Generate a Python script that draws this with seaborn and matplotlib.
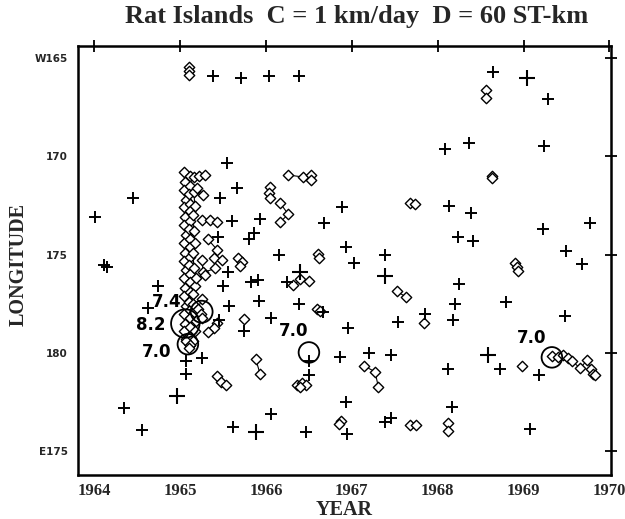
import matplotlib
matplotlib.use("Agg")
import matplotlib.pyplot as plt
import pandas as pd
import seaborn as sns

# ---- single events (crosses) ----
cross_year = [
    1965.38, 1965.71, 1966.04, 1966.38, 1968.64, 1969.28,
    1965.55, 1964.45, 1964.01, 1965.66, 1965.46, 1965.60, 1965.93, 1965.86,
    1965.80, 1966.68, 1966.89, 1965.44, 1968.09, 1968.37, 1969.24, 1968.13,
    1968.39, 1969.23, 1969.77, 1968.24, 1968.41,
    1964.11, 1964.15, 1964.74, 1964.63, 1965.57, 1965.50, 1965.56, 1965.82,
    1965.91, 1965.92, 1966.06, 1965.74, 1965.45, 1966.15, 1966.25, 1966.39,
    1966.66, 1966.93, 1966.95, 1967.39, 1967.02, 1969.50, 1969.68, 1968.25,
    1968.20, 1968.80, 1967.85, 1968.18, 1967.54, 1969.48,
    1965.07, 1965.25, 1965.07, 1964.34, 1964.56, 1965.62, 1966.46, 1966.06,
    1966.93, 1966.86, 1966.50, 1966.50, 1967.20, 1967.46, 1968.72, 1969.18,
    1968.12, 1968.17, 1967.39, 1967.46, 1969.07, 1966.94,
]
cross_lon = [
    165.9, 166.0, 165.9, 165.9, 165.7, 167.1,
    170.35, 172.1, 173.1, 171.6, 172.1, 173.3, 173.2, 173.9,
    174.2, 173.4, 172.6, 174.1, 169.65, 169.3, 169.5, 172.5,
    172.9, 173.7, 173.4, 174.1, 174.3,
    175.5, 175.65, 176.6, 177.7, 177.6, 176.6, 175.9, 176.4,
    176.3, 177.35, 178.2, 178.9, 178.3, 175.0, 176.4, 177.5,
    177.9, 174.6, 178.75, 175.0, 175.4, 174.8, 175.45, 176.5,
    177.5, 177.4, 178.0, 178.3, 178.4, 178.1,
    180.4, 180.25, 181.05, 182.8, 183.9, 183.75, 184.0, 183.1,
    182.5, 180.2, 180.4, 181.1, 180.0, 180.1, 180.8, 181.1,
    180.8, 182.75, 183.5, 183.3, 183.85, 184.1,
]
# larger crosses
big_cross_year = [1969.04, 1966.40, 1967.39, 1964.96, 1965.88, 1968.59]
big_cross_lon = [166.0, 175.9, 176.1, 182.2, 184.0, 180.1]

# ---- clustered events (diamonds joined within a group) ----
diamond_year = [
    1965.10, 1965.10, 1965.10,
    1966.05, 1966.04, 1966.05,
    1966.26, 1966.43, 1966.52, 1966.52,
    1966.16, 1966.26, 1966.16,
    1968.56, 1968.56,
    1968.63, 1968.63,
    1967.68, 1967.74,
    1968.90, 1968.92, 1968.93,
    1967.52, 1967.63,
    1967.84,
    1968.98,
    1969.33, 1969.40, 1969.46, 1969.52, 1969.57, 1969.66, 1969.74, 1969.78, 1969.81, 1969.83,
    1967.14, 1967.27, 1967.31,
    1967.68, 1967.75,
    1968.12, 1968.12,
    1966.87, 1966.85,
    1966.36, 1966.42, 1966.46, 1966.40,
    1966.60, 1966.62,
    1966.59, 1966.63,
    1966.32, 1966.40, 1966.50,
    1965.88, 1965.93,
    1965.43, 1965.48, 1965.53,
    1965.74,
    1965.67, 1965.72, 1965.70,
    # main sequence, western column
    1965.05, 1965.06, 1965.05, 1965.07, 1965.05, 1965.06, 1965.05, 1965.07,
    1965.05, 1965.06, 1965.05, 1965.07, 1965.05, 1965.06, 1965.05, 1965.07,
    1965.05, 1965.06, 1965.05, 1965.07,
    # main sequence, central column
    1965.11, 1965.12, 1965.10, 1965.11, 1965.12, 1965.11, 1965.10, 1965.12,
    1965.11, 1965.12, 1965.10, 1965.11, 1965.12, 1965.11, 1965.10, 1965.12,
    1965.11, 1965.12, 1965.11, 1965.12,
    # main sequence, eastern column
    1965.16, 1965.17, 1965.15, 1965.16, 1965.17, 1965.15, 1965.16, 1965.17,
    1965.15, 1965.16, 1965.17, 1965.15,
    1965.16, 1965.22, 1965.29,
    1965.20, 1965.27,
    1965.26, 1965.35, 1965.43,
    1965.32, 1965.43, 1965.39, 1965.49,
    1965.25, 1965.27, 1965.41,
    1965.18, 1965.29,
    1965.15, 1965.25, 1965.21, 1965.24, 1965.18, 1965.25,
    1965.43, 1965.39, 1965.33,
    1965.07, 1965.12, 1965.10,
]
diamond_lon = [
    165.45, 165.65, 165.85,
    171.55, 171.85, 172.1,
    170.95, 171.05, 170.95, 171.2,
    172.35, 172.95, 173.35,
    166.65, 167.05,
    171.0, 171.1,
    172.35, 172.4,
    175.4, 175.65, 175.85,
    176.85, 177.15,
    178.45,
    180.65,
    180.15, 180.2, 180.12, 180.27, 180.42, 180.78, 180.35, 180.8, 181.05, 181.12,
    180.65, 180.95, 181.75,
    183.65, 183.65,
    183.55, 183.95,
    183.45, 183.6,
    181.6, 181.5, 181.65, 181.75,
    174.95, 175.15,
    177.75, 177.85,
    176.55, 176.25, 176.35,
    180.3, 181.05,
    181.15, 181.45, 181.65,
    178.25,
    175.15, 175.35, 175.55,
    170.8, 171.3, 171.7, 172.2, 172.6, 173.1, 173.5, 174.0,
    174.4, 174.9, 175.3, 175.8, 176.2, 176.7, 177.1, 177.6,
    178.0, 178.5, 178.9, 179.3,
    171.0, 171.5, 171.9, 172.4, 172.8, 173.3, 173.7, 174.2,
    174.6, 175.1, 175.5, 176.0, 176.4, 176.9, 177.4, 177.8,
    178.2, 178.7, 179.2, 179.6,
    171.8, 172.5, 173.0, 173.8, 174.4, 174.9, 175.7, 176.6,
    177.0, 177.9, 178.9, 179.4,
    171.05, 171.0, 170.95,
    171.6, 171.95,
    173.25, 173.25, 173.35,
    174.2, 174.75, 175.15, 175.25,
    175.25, 175.9, 175.7,
    176.2, 176.05,
    177.5, 177.25, 177.75, 178.0, 178.35, 178.2,
    178.45, 178.75, 178.95,
    179.4, 179.6, 179.75,
]
diamond_group = (
    [0] * 3 + [1] * 3 + [2] * 4 + [3] * 3 + [4] * 2 + [5] * 2 + [6] * 2
    + [7] * 3 + [8] * 2 + [9] + [10] + [11] * 10 + [12] * 3 + [13] * 2
    + [14] * 2 + [15] * 2 + [16] * 4 + [17] * 2 + [18] * 2 + [19] * 3
    + [20] * 2 + [21] * 3 + [22] + [23] * 3 + [24] * 20 + [25] * 20
    + [35] * 12
    + [26] * 3 + [27] * 2 + [28] * 3 + [29] * 4 + [30] * 3 + [31] * 2
    + [32] * 6 + [33] * 3 + [34] * 3
)

# ---- large earthquakes ----
event_year = [1965.06, 1965.25, 1965.09, 1966.50, 1969.33]
event_lon = [178.5, 177.9, 179.55, 179.97, 180.22]
event_mag = [8.2, 7.4, 7.0, 7.0, 7.0]
event_label = ["8.2", "7.4", "7.0", "7.0", "7.0"]

year_ticks = [1964, 1965, 1966, 1967, 1968, 1969, 1970]
lon_ticks = [165, 170, 175, 180, 185]
lon_labels = ["W165", "170", "175", "180", "E175"]

sns.set_theme(style="white")
plt.rcParams["font.family"] = ["DejaVu Sans"]

fig = plt.figure(figsize=(6.25, 5.19), dpi=100)
ax = fig.add_axes([0.1248, 0.0848, 0.853, 0.8266])

diam = pd.DataFrame({"year": diamond_year, "lon": diamond_lon, "group": diamond_group})
sns.lineplot(data=diam, x="year", y="lon", units="group", estimator=None,
             sort=False, color="black", lw=0.8, ax=ax, legend=False)
sns.scatterplot(data=diam, x="year", y="lon", marker="D", s=28,
                facecolor="white", edgecolor="black", linewidth=1.0,
                ax=ax, zorder=3, legend=False)

sns.scatterplot(x=cross_year, y=cross_lon, marker="+", s=70, color="black",
                linewidth=1.4, ax=ax, zorder=4)
sns.scatterplot(x=big_cross_year, y=big_cross_lon, marker="+", s=140,
                color="black", linewidth=1.5, ax=ax, zorder=4)

ring_size = {8.2: 420, 7.4: 250, 7.0: 220}
sns.scatterplot(x=event_year, y=event_lon, marker="o",
                s=[ring_size[m] for m in event_mag],
                facecolor="none", edgecolor="black", linewidth=1.3,
                ax=ax, zorder=5)

label_offset = [(-35, -1), (-35, 10), (-31, -8), (-15, 21), (-20, 19)]
for yr, ln, txt, off in zip(event_year, event_lon, event_label, label_offset):
    ax.annotate(txt, (yr, ln), xytext=off, textcoords="offset pixels",
                ha="center", va="center", fontsize=12, fontweight="bold",
                color="black", zorder=6)

ax.set_xlim(1963.81, 1970.02)
ax.set_ylim(186.2, 164.39)
ax.set_xticks(year_ticks)
ax.set_xticklabels([str(y) for y in year_ticks], family="Liberation Serif",
                   fontweight="bold", fontsize=12)
ax.set_yticks(lon_ticks)
ax.set_yticklabels(lon_labels, fontweight="bold", fontsize=7.5)
ax.tick_params(axis="both", direction="inout", length=9, width=1.3,
               top=True, right=True, color="black", pad=3)
ax.tick_params(axis="x", pad=1.5)
for sp in ax.spines.values():
    sp.set_linewidth(1.8)
    sp.set_color("black")

ax.set_xlabel("YEAR", family="Liberation Serif", fontweight="bold",
              fontsize=14.5, va="center")
ax.xaxis.set_label_coords(0.5, -0.082)
ax.set_ylabel("LONGITUDE", family="Liberation Serif", fontweight="bold",
              fontsize=14.5, va="center")
ax.yaxis.set_label_coords(-0.111, 0.49)
fig.text(357 / 625, 1 - 16 / 519, "Rat Islands  C = 1 km/day  D = 60 ST-km",
         family="Liberation Serif", fontweight="bold", fontsize=19,
         ha="center", va="center")

fig.savefig("out.png", dpi=100, facecolor="white")
